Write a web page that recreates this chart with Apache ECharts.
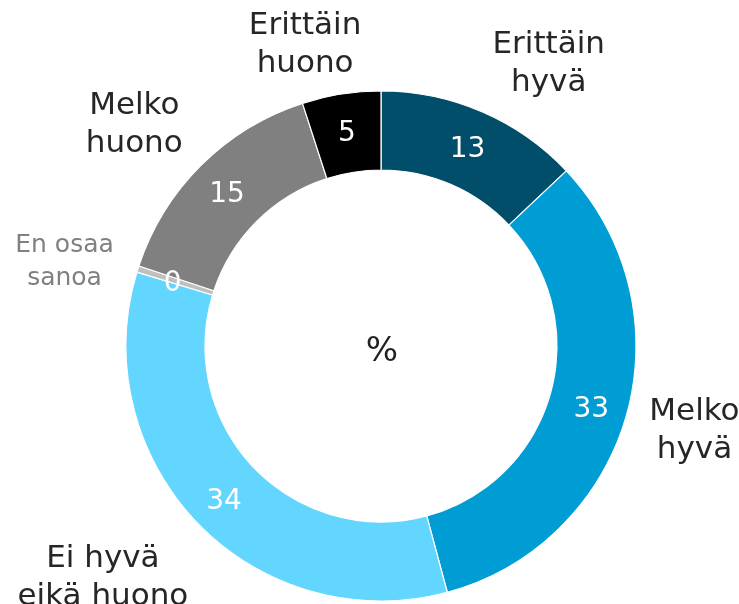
<!DOCTYPE html>
<html lang="fi">
<head>
    <meta charset="UTF-8">
    <title>Donut</title>
    <style>
        html, body { margin: 0; padding: 0; background: #fff; }
        #main { width: 739px; height: 604px; }
    </style>
</head>
<body>
    <div id="main"></div>
    <script src="https://cdn.jsdelivr.net/npm/echarts@6/dist/echarts.min.js"></script>
    <script>
        // vastausvaihtoehdot, myötäpäivään ylhäältä
        var categories = ['Erittäin\nhyvä', 'Melko\nhyvä', 'Ei hyvä\neikä huono', 'En osaa\nsanoa', 'Melko\nhuono', 'Erittäin\nhuono'];
        var values = [13, 33, 34, 0.4, 15, 5];
        var colors = ['#004e69', '#009dd5', '#62d6ff', '#bfbfbf', '#808080', '#000000'];
        // nimiotsikoiden siirrot (px) renkaan keskikohdasta
        var nameOffsets = [[36, 24], [-7, -6], [-39, 0], [1, 17], [-12, 15], [-24, 28]];

        var myChart = echarts.init(document.getElementById('main'));

        var ringData = values.map(function (v, i) {
            return { name: categories[i], value: v, itemStyle: { color: colors[i] } };
        });
        var nameData = values.map(function (v, i) {
            var d = { name: categories[i], value: v, label: { offset: nameOffsets[i] } };
            if (i === 3) {
                // pienempi harmaa teksti
                d.label.fontSize = 25;
                d.label.color = '#808080';
                d.label.lineHeight = 33;
            }
            return d;
        });

        var option = {
            animation: false,
            title: {
                text: '%',
                left: 377,
                top: 347,
                textAlign: 'center',
                textVerticalAlign: 'middle',
                textStyle: { fontFamily: 'DejaVu Sans', fontSize: 34, fontWeight: 'normal', color: '#222' }
            },
            series: [
                {
                    type: 'pie',
                    center: [381, 346],
                    radius: [176, 255],
                    startAngle: 90,
                    clockwise: true,
                    silent: true,
                    itemStyle: { borderColor: '#fff', borderWidth: 1.2 },
                    label: {
                        position: 'inside',
                        color: '#fff',
                        fontFamily: 'DejaVu Sans',
                        fontSize: 28,
                        offset: [0, 4],
                        formatter: function (p) { return Math.round(p.value); }
                    },
                    labelLine: { show: false },
                    data: ringData
                },
                {
                    // näkymätön rengas ulkopuolisille nimiotsikoille
                    type: 'pie',
                    center: [381, 346],
                    radius: [295, 365],
                    startAngle: 90,
                    clockwise: true,
                    silent: true,
                    itemStyle: { color: 'transparent' },
                    label: {
                        position: 'inside',
                        color: '#262626',
                        fontFamily: 'DejaVu Sans',
                        fontSize: 31,
                        lineHeight: 38,
                        formatter: '{b}'
                    },
                    labelLine: { show: false },
                    data: nameData
                }
            ]
        };
        myChart.setOption(option);
    </script>
</body>
</html>
